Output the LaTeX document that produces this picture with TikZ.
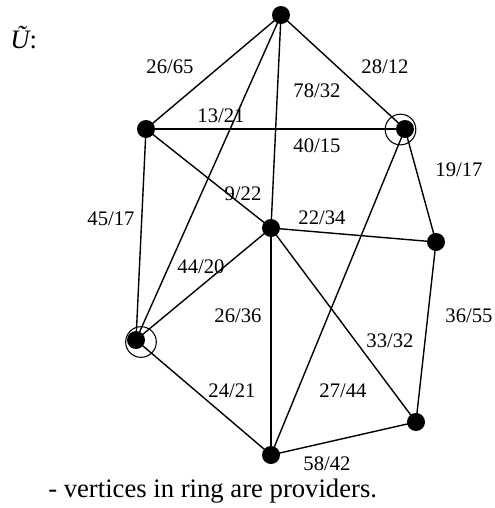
\documentclass[tikz,border=0pt]{standalone}
\usepackage{fontspec}
\setmainfont{Liberation Serif}
\begin{document}
\begin{tikzpicture}[x=0.75pt,y=-0.75pt,
  vtx/.style={circle,fill=black,inner sep=0pt,minimum size=13.5pt},
  ringc/.style={circle,draw=black,line width=0.8pt,inner sep=0pt,minimum size=23pt},
  edge/.style={line width=1.05pt},
  lbl/.style={font=\fontsize{15.5}{18}\selectfont,inner sep=0pt},
  big/.style={font=\fontsize{20}{24}\selectfont,inner sep=0pt}]
\useasboundingbox (0,0) rectangle (494,508);
\node[vtx] (T) at (281,15) {};
\node[vtx] (L) at (146,129) {};
\node[vtx] (R) at (405,129) {};
\node[vtx] (C) at (271,228) {};
\node[vtx] (RM) at (436,242) {};
\node[vtx] (LR) at (136,340) {};
\node[vtx] (BR) at (416,422) {};
\node[vtx] (B) at (271,455) {};
\node[ringc] (Rr) at (400.5,129.5) {};
\node[ringc] (LRr) at (141,342) {};
\draw[edge] (T.center) -- (L.center);
\draw[edge] (T.center) -- (R.center);
\draw[edge] (T.center) -- (C.center);
\draw[edge] (T.center) -- (LR.center);
\draw[edge] (L.center) -- (R.center);
\draw[edge] (L.center) -- (C.center);
\draw[edge] (L.center) -- (LR.center);
\draw[edge] (C.center) -- (LR.center);
\draw[edge] (C.center) -- (RM.center);
\draw[edge] (C.center) -- (B.center);
\draw[edge] (C.center) -- (BR.center);
\draw[edge] (R.center) -- (RM.center);
\draw[edge] (R.center) -- (B.center);
\draw[edge] (RM.center) -- (BR.center);
\draw[edge] (LR.center) -- (B.center);
\draw[edge] (B.center) -- (BR.center);
\node[big,anchor=base west] (title) at (10,48) {\itshape Ũ\upshape:};
\node[lbl] (l1) at (170,67) {26/65};
\node[lbl] (l2) at (385,67) {28/12};
\node[lbl] (l3) at (317,91) {78/32};
\node[lbl] (l4) at (221,116) {13/21};
\node[lbl] (l5) at (317,146) {40/15};
\node[lbl] (l6) at (459,170) {19/17};
\node[lbl] (l7) at (243,194) {9/22};
\node[lbl] (l8) at (111,219) {45/17};
\node[lbl] (l9) at (322,218) {22/34};
\node[lbl] (l10) at (201,267) {44/20};
\node[lbl] (l11) at (469,316) {36/55};
\node[lbl] (l12) at (238,316) {26/36};
\node[lbl] (l13) at (390,341) {33/32};
\node[lbl] (l14) at (232,391) {24/21};
\node[lbl] (l15) at (343,391) {27/44};
\node[lbl] (l16) at (327,464) {58/42};
\node[big,anchor=base west] (note) at (48,497) {- vertices in ring are providers.};
\end{tikzpicture}
\end{document}
